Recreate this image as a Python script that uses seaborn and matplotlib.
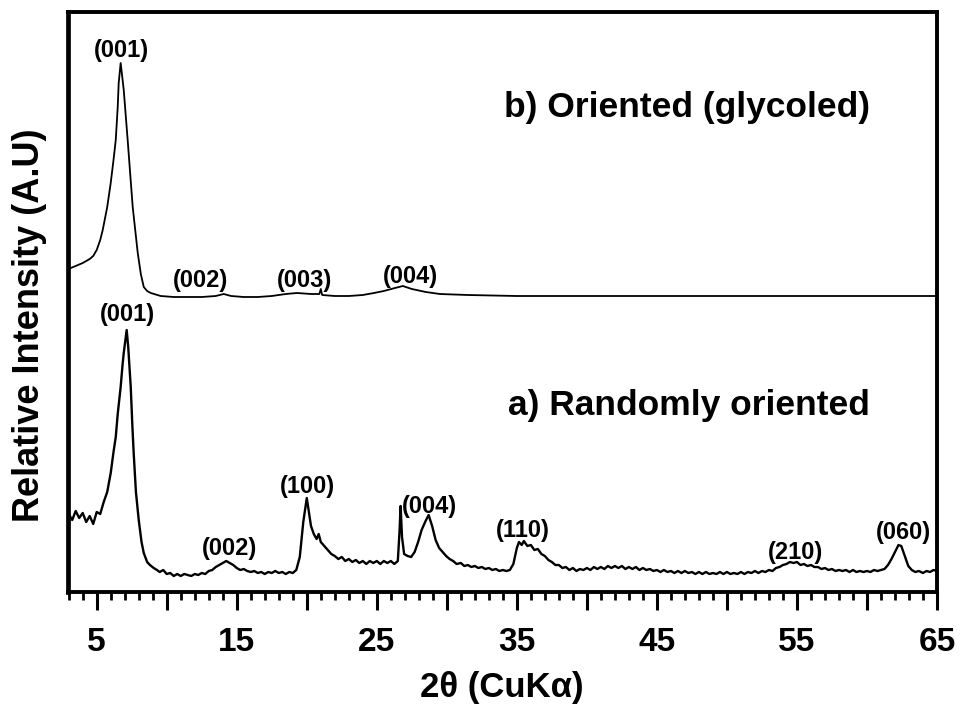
import matplotlib
matplotlib.use("Agg")
import matplotlib.pyplot as plt
import seaborn as sns
import pandas as pd

# ---------------- data ----------------
# a) Randomly oriented
two_theta_a = [3.0, 3.25, 3.5, 3.75, 4.0, 4.25, 4.5, 4.75, 5.0, 5.25, 5.5, 5.75, 6.0, 6.2, 6.36, 6.5,
               6.71, 6.85, 6.93, 7.05, 7.14, 7.25, 7.43, 7.55, 7.64, 7.8, 8.0, 8.2, 8.36, 8.6, 8.8,
               9.07, 9.3, 9.5, 9.75, 10.0, 10.25, 10.5, 10.75, 11.0, 11.25, 11.5, 11.75, 12.0, 12.25,
               12.5, 12.75, 13.0, 13.25, 13.5, 13.75, 14.0, 14.25, 14.5, 14.75, 15.0, 15.25, 15.5,
               15.75, 16.0, 16.25, 16.5, 16.75, 17.0, 17.25, 17.5, 17.75, 18.0, 18.25, 18.5, 18.75,
               19.0, 19.25, 19.5, 19.75, 20.0, 20.15, 20.3, 20.5, 20.7, 20.85, 21.0, 21.25, 21.5,
               21.75, 22.0, 22.25, 22.5, 22.75, 23.0, 23.25, 23.5, 23.75, 24.0, 24.25, 24.5, 24.75,
               25.0, 25.25, 25.5, 25.75, 26.0, 26.25, 26.5, 26.62, 26.7, 26.8, 26.95, 27.2, 27.45,
               27.7, 27.95, 28.2, 28.45, 28.7, 28.95, 29.2, 29.45, 29.7, 29.95, 30.2, 30.45, 30.7,
               31.0, 31.25, 31.5, 31.75, 32.0, 32.25, 32.5, 32.75, 33.0, 33.25, 33.5, 33.75, 34.0,
               34.25, 34.5, 34.75, 35.0, 35.15, 35.35, 35.5, 35.75, 36.0, 36.25, 36.5, 36.75, 37.0,
               37.25, 37.5, 37.75, 38.0, 38.25, 38.5, 38.75, 39.0, 39.25, 39.5, 39.75, 40.0, 40.25,
               40.5, 40.75, 41.0, 41.25, 41.5, 41.75, 42.0, 42.25, 42.5, 42.75, 43.0, 43.25, 43.5,
               43.75, 44.0, 44.25, 44.5, 44.75, 45.0, 45.25, 45.5, 45.75, 46.0, 46.25, 46.5, 46.75,
               47.0, 47.25, 47.5, 47.75, 48.0, 48.25, 48.5, 48.75, 49.0, 49.25, 49.5, 49.75, 50.0,
               50.25, 50.5, 50.75, 51.0, 51.25, 51.5, 51.75, 52.0, 52.25, 52.5, 52.75, 53.0, 53.25,
               53.5, 53.75, 54.0, 54.25, 54.5, 54.75, 55.0, 55.25, 55.5, 55.75, 56.0, 56.25, 56.5,
               56.75, 57.0, 57.25, 57.5, 57.75, 58.0, 58.25, 58.5, 58.75, 59.0, 59.25, 59.5, 59.75,
               60.0, 60.25, 60.5, 60.75, 61.0, 61.25, 61.5, 61.75, 62.0, 62.25, 62.45, 62.7, 62.95,
               63.2, 63.45, 63.7, 64.0, 64.25, 64.5, 64.75, 65.0]
intensity_a = [78, 72, 81, 74, 79, 70, 76, 68, 80, 78, 90, 100, 119, 140, 155, 178,
               205, 228, 239, 252, 262, 245, 205, 165, 139, 100, 72, 50, 39, 30, 27,
               24, 22, 20, 22, 18, 19, 16, 18, 16, 18, 17, 16, 18, 17,
               19, 18, 21, 22, 25, 27, 29, 31, 29, 27, 24, 22, 23,
               21, 20, 21, 19, 20, 18, 20, 19, 21, 19, 20, 18, 20,
               19, 22, 35, 70, 94, 80, 66, 58, 53, 58, 50, 46, 42,
               38, 36, 33, 35, 31, 33, 30, 32, 29, 31, 28, 31, 29,
               31, 28, 31, 29, 31, 28, 31, 60, 86, 55, 38, 36, 35,
               40, 50, 62, 70, 77, 66, 52, 44, 40, 36, 33, 31, 28,
               29, 26, 27, 25, 26, 24, 25, 23, 24, 22, 23, 21, 22,
               21, 22, 28, 44, 50, 47, 51, 46, 47, 42, 43, 38, 36,
               32, 30, 27, 27, 24, 25, 22, 24, 21, 23, 22, 24, 22,
               25, 23, 25, 23, 26, 24, 26, 24, 26, 23, 25, 23, 25,
               22, 24, 22, 23, 21, 22, 20, 22, 20, 21, 19, 21, 19,
               21, 19, 20, 18, 20, 18, 20, 18, 19, 18, 20, 18, 20,
               18, 19, 18, 20, 18, 20, 19, 21, 19, 21, 20, 22, 21,
               24, 25, 27, 28, 30, 29, 30, 27, 28, 26, 27, 25, 25,
               23, 24, 22, 23, 21, 22, 21, 22, 20, 22, 20, 21, 20,
               21, 20, 22, 21, 22, 23, 27, 33, 40, 47, 46, 36, 26,
               22, 20, 21, 19, 21, 20, 22, 21]

# b) Oriented (glycoled)
two_theta_b = [3.0, 3.14, 3.5, 4.0, 4.5, 4.75, 5.0, 5.25, 5.43, 5.75, 6.0, 6.2, 6.36, 6.5, 6.57,
               6.71, 6.85, 6.93, 7.21, 7.57, 7.93, 8.15, 8.36, 8.6, 8.86, 9.57, 10.5, 11.5, 12.5,
               13.5, 14.07, 14.6, 15.5, 16.5, 17.5, 18.5, 19.3, 20.3, 20.9, 21.0, 21.1, 22.0,
               23.0, 24.0, 24.8, 25.5, 26.3, 26.86, 27.5, 28.5, 29.5, 31.5, 35.0, 40.0, 45.0,
               50.0, 55.0, 60.0, 65.0]
intensity_b = [322, 324, 326, 329, 333, 336, 342, 352, 362, 385, 409, 432, 452, 485, 509,
               529, 512, 502, 452, 385, 339, 318, 305, 301, 299, 296, 295, 295, 295,
               296, 298, 296, 295, 295, 296, 298, 299, 298, 298, 303, 297, 296,
               296, 297, 299, 301, 304, 306, 303, 300, 298, 297, 296, 296, 296,
               296, 296, 296, 296]

# peak labels
labels_a = ["(001)", "(002)", "(100)", "(004)", "(110)", "(210)", "(060)"]
label_a_x = [7.21, 14.5, 20.07, 28.79, 35.43, 54.93, 62.57]
label_a_y = [278, 43, 105, 85, 61, 40, 59]

labels_b = ["(001)", "(002)", "(003)", "(004)"]
label_b_x = [6.79, 12.43, 19.86, 27.43]
label_b_y = [541, 311, 311, 316]

series_titles = ["b) Oriented (glycoled)", "a) Randomly oriented"]
series_title_x = [47.14, 47.3]
series_title_y = [484, 187]

x_ticks = [5, 10, 15, 20, 25, 30, 35, 40, 45, 50, 55, 60, 65]
x_tick_labels = ["5", "", "15", "", "25", "", "35", "", "45", "", "55", "", "65"]

# ---------------- plotting ----------------
sns.set_theme(style="white")
plt.rcParams["font.family"] = ["Liberation Sans", "DejaVu Sans"]
plt.rcParams["font.weight"] = "bold"
plt.rcParams["text.color"] = "black"
plt.rcParams["axes.labelcolor"] = "black"
plt.rcParams["xtick.color"] = "black"
plt.rcParams["xtick.labelcolor"] = "black"

fig = plt.figure(figsize=(9.64, 7.12), dpi=100)
ax = fig.add_axes([68 / 964, 1 - 592 / 712, (937 - 68) / 964, (592 - 12) / 712])

df_a = pd.DataFrame({"x": two_theta_a, "y": intensity_a})
df_b = pd.DataFrame({"x": two_theta_b, "y": intensity_b})
sns.lineplot(data=df_a, x="x", y="y", ax=ax, color="black", linewidth=1.7,
             estimator=None, sort=False)
sns.lineplot(data=df_b, x="x", y="y", ax=ax, color="black", linewidth=1.3,
             estimator=None, sort=False)

for t, x, y in zip(labels_a, label_a_x, label_a_y):
    ax.text(x, y, t, ha="center", va="center", fontsize=17, fontweight="bold", color="black")
for t, x, y in zip(labels_b, label_b_x, label_b_y):
    ax.text(x, y, t, ha="center", va="center", fontsize=17, fontweight="bold", color="black")
for t, x, y in zip(series_titles, series_title_x, series_title_y):
    ax.text(x, y, t, ha="center", va="center", fontsize=25.5, fontweight="bold", color="black")

ax.set_xlim(2.95, 65.0)
ax.set_ylim(0, 580)
ax.set_yticks([])
ax.set_xticks(x_ticks)
ax.set_xticklabels(x_tick_labels)
ax.set_xticks(range(3, 66), minor=True)
ax.tick_params(axis="x", which="major", direction="out", length=13, width=2.2,
               pad=12, labelsize=24, color="black", labelcolor="black", bottom=True)
ax.tick_params(axis="x", which="minor", direction="out", length=6, width=2.0,
               color="black", bottom=True)
for lbl in ax.get_xticklabels():
    lbl.set_fontweight("bold")

for side in ["left", "right", "top", "bottom"]:
    ax.spines[side].set_visible(True)
    ax.spines[side].set_color("black")
    ax.spines[side].set_linewidth(2.8)
ax.spines["left"].set_linewidth(3.4)

ax.set_xlabel("")
ax.set_ylabel("")
fig.text(502 / 964, 1 - 688 / 712, "2θ (CuKα)", ha="center", va="center",
         fontsize=25, fontweight="bold", color="black")
fig.text(30 / 964, 1 - 325 / 712, "Relative Intensity (A.U)", ha="center", va="center",
         rotation=90, fontsize=26, fontweight="bold", color="black")

fig.savefig("out.png", dpi=100, facecolor="white")
